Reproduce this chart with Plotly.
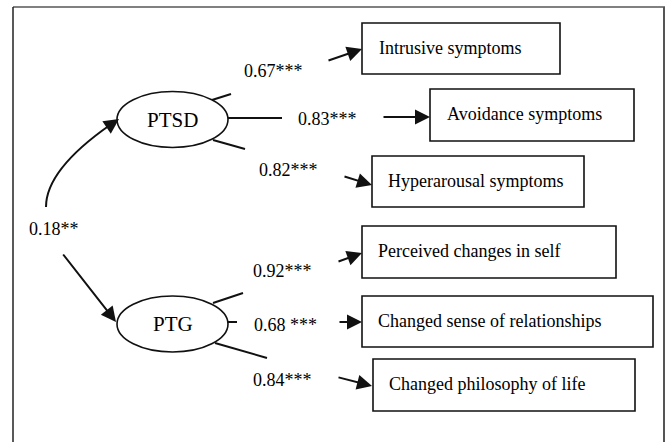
import plotly.graph_objects as go

# ---- data (text content of the path diagram) ----
latent_names = ["PTSD", "PTG"]
indicator_names = [
    "Intrusive symptoms",
    "Avoidance symptoms",
    "Hyperarousal symptoms",
    "Perceived changes in self",
    "Changed sense of relationships",
    "Changed philosophy of life",
]
loading_labels = ["0.67***", "0.83***", "0.82***", "0.92***", "0.68 ***", "0.84***"]
correlation_label = "0.18**"

# ---- layout (pixel positions, kept separately from data) ----
W, H = 667, 442
FONT = "Liberation Serif, Times New Roman, serif"

box_x0 = [362, 430, 372, 362, 362, 373]
box_x1 = [560, 634, 584, 616, 653, 635]
box_y0 = [23, 89, 156, 226, 296, 359]
box_y1 = [74, 141, 207, 278, 347, 411]
box_text_x = [377, 445, 386, 376, 376, 387]

label_x = [242, 296, 257, 251, 252, 251]
label_y = [71, 119, 170, 271, 325, 380]

arrow_tail = [(327, 61), (382, 117), (343, 176), (337, 262), (338, 322), (337, 377)]
arrow_tip = [(362, 49), (430, 117), (372, 185), (362, 253), (362, 322), (372, 386)]

stub_lines = [
    ((212, 100), (231, 94)), ((228, 118), (282, 118)), ((213, 140), (245, 149)),
    ((213, 303), (243, 293)), ((228, 322), (237, 322)), ((215, 343), (267, 358)),
]

ellipse_c = [(172.5, 119.5), (172.5, 324)]
ellipse_r = (55.5, 28)

ARROW = dict(arrowhead=2, arrowsize=1.5, arrowwidth=2, arrowcolor="#111")

fig = go.Figure()
shapes = []
annotations = []

# outer frame
shapes.append(dict(type="line", x0=13, y0=7, x1=665, y1=7, line=dict(color="#808080", width=2)))
shapes.append(dict(type="line", x0=13, y0=7, x1=13, y1=450, line=dict(color="#222", width=1.5)))
shapes.append(dict(type="line", x0=664, y0=7, x1=664, y1=450, line=dict(color="#555", width=2)))

# indicator boxes and texts
for i, name in enumerate(indicator_names):
    shapes.append(dict(type="rect", x0=box_x0[i], x1=box_x1[i], y0=box_y0[i], y1=box_y1[i],
                       line=dict(color="#111", width=1.6), fillcolor="white"))
    annotations.append(dict(x=box_text_x[i], y=(box_y0[i] + box_y1[i]) / 2 - 1, text=name,
                            xanchor="left", yanchor="middle", showarrow=False,
                            font=dict(family=FONT, size=18, color="#000")))
    annotations.append(dict(x=label_x[i], y=label_y[i], text=loading_labels[i],
                            xanchor="left", yanchor="middle", showarrow=False,
                            font=dict(family=FONT, size=18, color="#000")))
    (tx, ty), (hx, hy) = arrow_tail[i], arrow_tip[i]
    annotations.append(dict(x=hx, y=hy, ax=tx, ay=ty, axref="x", ayref="y", xref="x", yref="y",
                            text="", showarrow=True, **ARROW))

# stubs from latent variables
for (a, b) in stub_lines:
    shapes.append(dict(type="line", x0=a[0], y0=a[1], x1=b[0], y1=b[1],
                       line=dict(color="#111", width=2)))

# latent ellipses
for (cx, cy), name in zip(ellipse_c, latent_names):
    shapes.append(dict(type="circle", x0=cx - ellipse_r[0], x1=cx + ellipse_r[0],
                       y0=cy - ellipse_r[1], y1=cy + ellipse_r[1],
                       line=dict(color="#111", width=1.6), fillcolor="white"))
    annotations.append(dict(x=cx, y=cy, text=name, xanchor="center", yanchor="middle",
                            showarrow=False, font=dict(family=FONT, size=21, color="#000")))

# correlation: curved arrow to PTSD, straight arrow to PTG
shapes.append(dict(type="path", path="M 46,207 C 46,172 90,139 110,125",
                   line=dict(color="#111", width=2)))
annotations.append(dict(x=119, y=119, ax=105, ay=128.5, axref="x", ayref="y",
                        text="", showarrow=True, **ARROW))
annotations.append(dict(x=27, y=229, text=correlation_label, xanchor="left", yanchor="middle",
                        showarrow=False, font=dict(family=FONT, size=18, color="#000")))
annotations.append(dict(x=116, y=322, ax=62, ay=253, axref="x", ayref="y",
                        text="", showarrow=True, **ARROW))

fig.update_layout(
    width=W, height=H, margin=dict(l=0, r=0, t=0, b=0),
    paper_bgcolor="white", plot_bgcolor="white",
    xaxis=dict(range=[0, W], visible=False, fixedrange=True),
    yaxis=dict(range=[H, 0], visible=False, fixedrange=True),
    shapes=shapes, annotations=annotations, showlegend=False,
)

fig.write_html("out.html", config={"displayModeBar": False},
               post_script="document.body.style.margin='0';")
